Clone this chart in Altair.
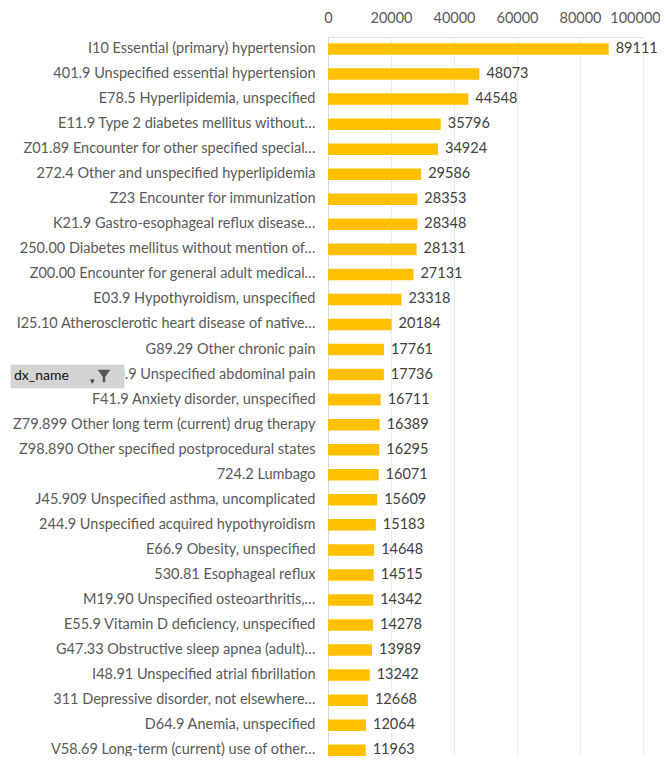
import altair as alt
import pandas as pd

dx_names = [
    "I10 Essential (primary) hypertension",
    "401.9 Unspecified essential hypertension",
    "E78.5 Hyperlipidemia, unspecified",
    "E11.9 Type 2 diabetes mellitus without…",
    "Z01.89 Encounter for other specified special…",
    "272.4 Other and unspecified hyperlipidemia",
    "Z23 Encounter for immunization",
    "K21.9 Gastro-esophageal reflux disease…",
    "250.00 Diabetes mellitus without mention of…",
    "Z00.00 Encounter for general adult medical…",
    "E03.9 Hypothyroidism, unspecified",
    "I25.10 Atherosclerotic heart disease of native…",
    "G89.29 Other chronic pain",
    "R10.9 Unspecified abdominal pain",
    "F41.9 Anxiety disorder, unspecified",
    "Z79.899 Other long term (current) drug therapy",
    "Z98.890 Other specified postprocedural states",
    "724.2 Lumbago",
    "J45.909 Unspecified asthma, uncomplicated",
    "244.9 Unspecified acquired hypothyroidism",
    "E66.9 Obesity, unspecified",
    "530.81 Esophageal reflux",
    "M19.90 Unspecified osteoarthritis,…",
    "E55.9 Vitamin D deficiency, unspecified",
    "G47.33 Obstructive sleep apnea (adult)…",
    "I48.91 Unspecified atrial fibrillation",
    "311 Depressive disorder, not elsewhere…",
    "D64.9 Anemia, unspecified",
    "V58.69 Long-term (current) use of other…",
]
counts = [89111, 48073, 44548, 35796, 34924, 29586, 28353, 28348, 28131, 27131,
          23318, 20184, 17761, 17736, 16711, 16389, 16295, 16071, 15609, 15183,
          14648, 14515, 14342, 14278, 13989, 13242, 12668, 12064, 11963]
x_ticks = [0, 20000, 40000, 60000, 80000, 100000]

df = pd.DataFrame({"dx_name": dx_names, "count": counts})

FONT = "Lato"
W, H = 315, 719

y_scale = alt.Scale(type="band", paddingInner=0.54, paddingOuter=0.125, align=1)
y_enc = alt.Y("dx_name:N", sort=dx_names, title=None, scale=y_scale,
              axis=alt.Axis(labelFont=FONT, labelFontSize=14.5, labelColor="#595959",
                            labelPadding=13, labelLimit=400, ticks=False, tickSize=0,
                            domain=True, domainColor="#d9d9d9", domainWidth=1,
                            grid=False))
x_enc = alt.X("count:Q", title=None,
              scale=alt.Scale(domain=[0, 100000], nice=False),
              axis=alt.Axis(orient="top", values=x_ticks, format="d", labelFont=FONT,
                            labelFontSize=14.5, labelColor="#595959", ticks=False,
                            tickSize=0, labelPadding=12, domain=False, grid=True,
                            labelOverlap=False, labelFlush=False,
                            labelOffset={"condition": {"test": "datum.value == 100000",
                                                       "value": -8}, "value": 0},
                            gridColor="#ececec", gridWidth=1))

base = alt.Chart(df)
bars = base.mark_bar(color="#FFC000").encode(x=x_enc, y=y_enc)
vals = base.mark_text(align="left", baseline="middle", dx=7, font=FONT,
                      fontSize=14.5, color="#404040").encode(
    x=alt.X("count:Q"), y=alt.Y("dx_name:N", sort=dx_names, scale=y_scale),
    text="count:Q")

# Excel pivot-chart field button overlay
btn = alt.Chart(pd.DataFrame({"t": ["dx_name"]})).mark_rect(
    color="#d4d4d4", stroke="#c8c8c8", strokeWidth=0.5).encode(
    x=alt.value(-317), x2=alt.value(-204), y=alt.value(328), y2=alt.value(351))
btn_text = alt.Chart(pd.DataFrame({"t": ["dx_name"]})).mark_text(
    align="left", baseline="middle", font=FONT, fontSize=14, color="#111111").encode(
    x=alt.value(-314), y=alt.value(339), text="t:N")
btn_arrow = alt.Chart(pd.DataFrame({"t": ["▾"]})).mark_text(
    align="center", baseline="middle", fontSize=9, color="#444444").encode(
    x=alt.value(-236), y=alt.value(344), text="t:N")
funnel = alt.Chart(pd.DataFrame({"t": ["f"]})).mark_point(
    shape="M-1,-1L1,-1L0.2,0.1L0.2,1L-0.2,1L-0.2,0.1Z", filled=True,
    color="#555555", size=160, opacity=1).encode(
    x=alt.value(-224), y=alt.value(339))

chart = alt.layer(bars, vals, btn, btn_text, btn_arrow, funnel).properties(
    width=W, height=H,
    autosize=alt.AutoSizeParams(type="none"),
    padding={"left": 320, "top": 29, "right": 17, "bottom": 0},
).configure_view(stroke=None).configure(background="white")

chart.save("out.html", embed_options={"renderer": "svg", "actions": False})
